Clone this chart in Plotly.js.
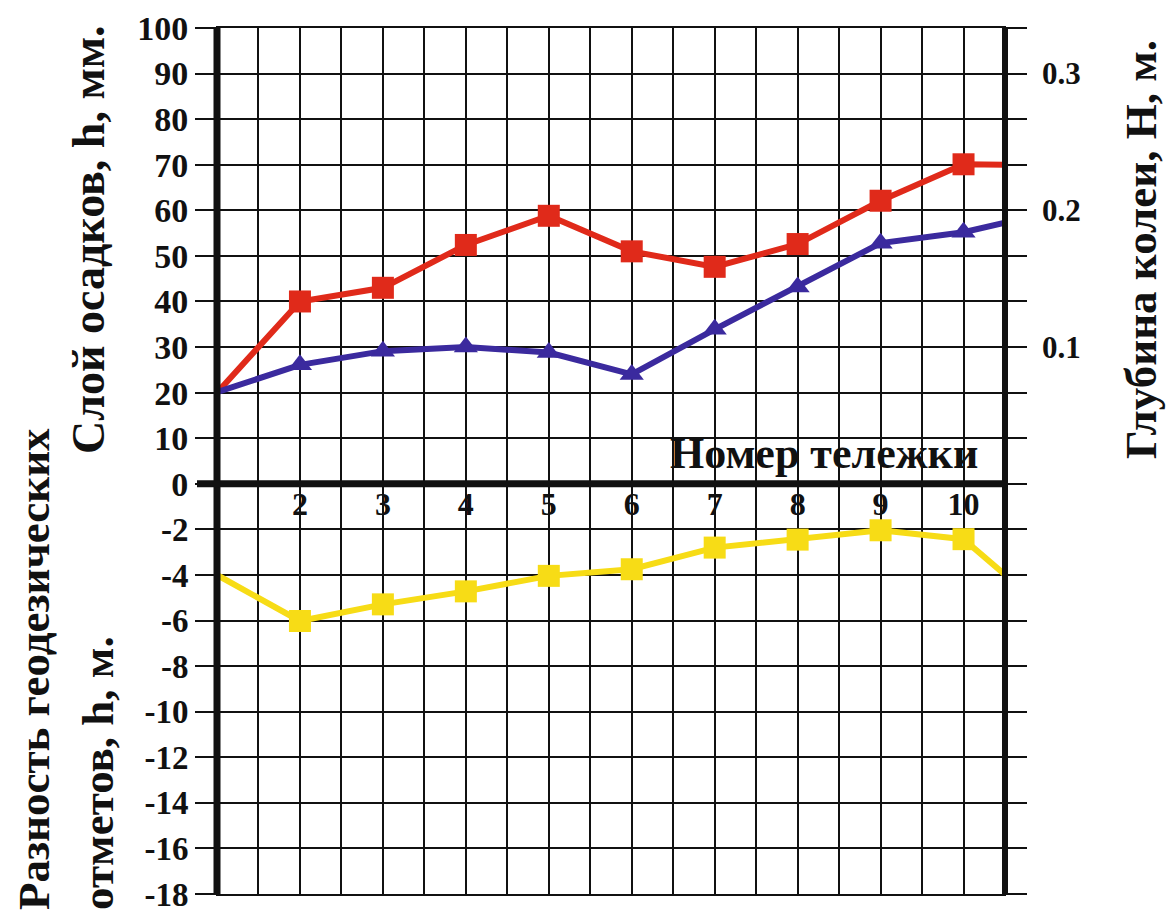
<!DOCTYPE html>
<html>
<head>
<meta charset="utf-8">
<script src="https://cdn.plot.ly/plotly-3.0.1.min.js"></script>
<style>
  html, body { margin: 0; padding: 0; background: #ffffff; }
  #chart { width: 1170px; height: 914px; }
</style>
</head>
<body>
<div id="chart"></div>
<script>
// ---- data ----
const wagonNumbers = [1, 2, 3, 4, 5, 6, 7, 8, 9, 10, 10.5];
const sedimentLayerMm = [20, 40, 43, 52.4, 58.8, 51, 47.6, 52.6, 62.1, 70.1, 70];
const rutDepthM = [0.067, 0.087, 0.097, 0.100, 0.096, 0.080, 0.113, 0.144, 0.176, 0.184, 0.191];
const geodeticDiffM = [-4, -6.02, -5.29, -4.72, -4.04, -3.75, -2.8, -2.45, -2.04, -2.43, -3.99];
const markerShown = [false, true, true, true, true, true, true, true, true, true, false];

const xTickVals = [2, 3, 4, 5, 6, 7, 8, 9, 10];
const xTickText = ['2', '3', '4', '5', '6', '7', '8', '9', '10'];
const topTickVals = [0, 10, 20, 30, 40, 50, 60, 70, 80, 90, 100];
const topTickText = ['0', '10', '20', '30', '40', '50', '60', '70', '80', '90', '100'];
const bottomTickVals = [-18, -16, -14, -12, -10, -8, -6, -4, -2];
const bottomTickText = ['-18', '-16', '-14', '-12', '-10', '-8', '-6', '-4', '-2'];
const rightTickVals = [0.1, 0.2, 0.3];
const rightTickText = ['0.1', '0.2', '0.3'];

const titleTop = 'Слой осадков, h, мм.';
const titleRight = 'Глубина колеи, Н, м.';
const titleBottomLine1 = 'Разность геодезических';
const titleBottomLine2 = 'отметов, h, м.';
const titleX = 'Номер тележки';

// ---- styling ----
const SERIF = '"Liberation Serif", "Times New Roman", Times, serif';
const INK = '#111111';
const RED = '#e02a1a';
const BLUE = '#3b2a9e';
const YELLOW = '#f7dc16';
const sizes = (s) => markerShown.map(v => v ? s : 0);
const bold = (size) => ({ family: SERIF, size: size, color: INK, weight: 'bold' });

// plot area geometry (px)
const L = 217, R = 1005, T = 28, B = 894;
const W = R - L, H = B - T;
const splitFrac = 9 / 19;
const px = (x) => (x - L) / W;
const py = (y) => (B - y) / H;

const traces = [
  {
    x: wagonNumbers, y: sedimentLayerMm, xaxis: 'x', yaxis: 'y',
    mode: 'lines+markers', cliponaxis: false,
    line: { color: RED, width: 6 },
    marker: { symbol: 'square', size: sizes(22), color: RED, opacity: 1, line: { width: 0 } },
    hoverinfo: 'x+y', showlegend: false
  },
  {
    x: wagonNumbers, y: rutDepthM, xaxis: 'x', yaxis: 'y3',
    mode: 'lines+markers', cliponaxis: false,
    line: { color: BLUE, width: 6 },
    marker: { symbol: 'triangle-up', size: sizes(21), color: BLUE, opacity: 1, line: { width: 0 } },
    hoverinfo: 'x+y', showlegend: false
  },
  {
    x: wagonNumbers, y: geodeticDiffM, xaxis: 'x2', yaxis: 'y2',
    mode: 'lines+markers', cliponaxis: false,
    line: { color: YELLOW, width: 6 },
    marker: { symbol: 'square', size: sizes(22), color: YELLOW, opacity: 1, line: { width: 0 } },
    hoverinfo: 'x+y', showlegend: false
  }
];

const gridCommon = { showgrid: true, gridcolor: INK, gridwidth: 2 };
const xMinor = { tickmode: 'linear', tick0: 1, dtick: 0.5, showgrid: true, gridcolor: INK, gridwidth: 2, ticks: '' };

const layout = {
  width: 1170, height: 914,
  margin: { l: L, r: 1170 - R, t: T, b: 914 - B, pad: 0 },
  paper_bgcolor: '#ffffff', plot_bgcolor: '#ffffff',
  font: bold(30),
  showlegend: false,
  xaxis: Object.assign({
    anchor: 'y', range: [1, 10.5], tickmode: 'array', tickvals: xTickVals,
    showticklabels: false, ticks: '', zeroline: false,
    showline: true, linecolor: INK, linewidth: 2, mirror: true,
    minor: xMinor
  }, gridCommon),
  xaxis2: Object.assign({
    anchor: 'y2', matches: 'x', range: [1, 10.5], tickmode: 'array',
    tickvals: xTickVals, ticktext: xTickText, side: 'top',
    ticklabelposition: 'inside', ticklabelstandoff: 12, ticks: '', zeroline: false,
    tickfont: bold(32),
    showline: true, linecolor: INK, linewidth: 2, mirror: true,
    minor: xMinor
  }, gridCommon),
  yaxis: Object.assign({
    domain: [splitFrac, 1], anchor: 'x', range: [0, 100],
    tickmode: 'array', tickvals: topTickVals, ticktext: topTickText, zeroline: false,
    ticks: 'outside', ticklen: 21, tickwidth: 2, tickcolor: INK,
    showline: true, linecolor: INK, linewidth: 1, mirror: 'ticks',
    ticklabeloverflow: 'allow', tickfont: bold(34)
  }, gridCommon),
  yaxis2: Object.assign({
    domain: [0, splitFrac], anchor: 'x2', range: [-18, 0],
    tickmode: 'array', tickvals: bottomTickVals, ticktext: bottomTickText, zeroline: false,
    ticks: 'outside', ticklen: 21, tickwidth: 2, tickcolor: INK,
    showline: true, linecolor: INK, linewidth: 1, mirror: 'ticks',
    ticklabeloverflow: 'allow', tickfont: bold(33)
  }, gridCommon),
  yaxis3: {
    overlaying: 'y', side: 'right', anchor: 'x', range: [0, 1 / 3],
    tickmode: 'array', tickvals: rightTickVals, ticktext: rightTickText,
    showgrid: false, zeroline: false, showline: false, ticks: '',
    ticklabelstandoff: 36,
    tickfont: bold(31)
  },
  shapes: [
    { type: 'line', xref: 'paper', yref: 'paper', x0: 0, x1: 0, y0: 0, y1: 1,
      line: { color: INK, width: 7 }, layer: 'above' },
    { type: 'line', xref: 'paper', yref: 'paper', x0: 1, x1: 1, y0: 0, y1: 1,
      line: { color: INK, width: 6 }, layer: 'above' },
    { type: 'line', xref: 'paper', yref: 'paper', x0: -20 / W, x1: 1, y0: splitFrac, y1: splitFrac,
      line: { color: INK, width: 7 }, layer: 'above' }
  ],
  annotations: [
    { xref: 'paper', yref: 'paper', x: px(88), y: py(240), text: titleTop,
      textangle: -90, showarrow: false, xanchor: 'center', yanchor: 'middle',
      font: bold(46) },
    { xref: 'paper', yref: 'paper', x: px(1141), y: py(250), text: titleRight,
      textangle: -90, showarrow: false, xanchor: 'center', yanchor: 'middle',
      font: bold(45) },
    { xref: 'paper', yref: 'paper', x: px(34), y: py(912), text: titleBottomLine1,
      textangle: -90, showarrow: false, xanchor: 'center', yanchor: 'bottom',
      font: bold(45) },
    { xref: 'paper', yref: 'paper', x: px(98), y: py(912), text: titleBottomLine2,
      textangle: -90, showarrow: false, xanchor: 'center', yanchor: 'bottom',
      font: bold(45) },
    { xref: 'paper', yref: 'paper', x: px(824), y: py(453), text: titleX,
      showarrow: false, xanchor: 'center', yanchor: 'middle',
      font: bold(44) }
  ]
};

Plotly.newPlot('chart', traces, layout, { displayModeBar: false, staticPlot: true });
</script>
</body>
</html>
